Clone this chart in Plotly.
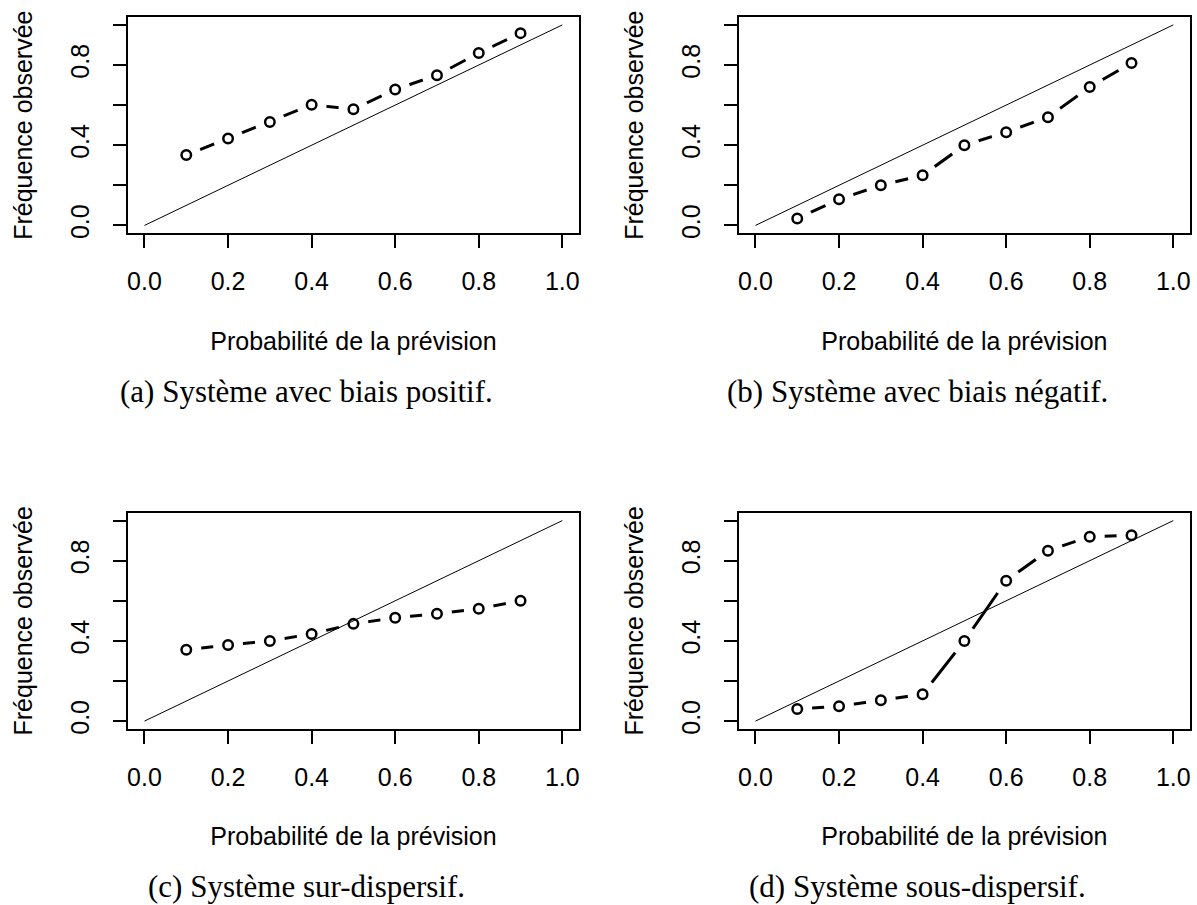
import plotly.graph_objects as go

# ---- data ----
prob = [0.1, 0.2, 0.3, 0.4, 0.5, 0.6, 0.7, 0.8, 0.9]
freq_a = [0.351, 0.434, 0.516, 0.602, 0.579, 0.678, 0.749, 0.860, 0.959]
freq_b = [0.035, 0.130, 0.200, 0.250, 0.400, 0.465, 0.540, 0.690, 0.810]
freq_c = [0.356, 0.380, 0.400, 0.435, 0.485, 0.515, 0.535, 0.560, 0.600]
freq_d = [0.060, 0.074, 0.104, 0.134, 0.400, 0.700, 0.850, 0.920, 0.927]
diag = [0.0, 1.0]
tick_vals = [0.0, 0.2, 0.4, 0.6, 0.8, 1.0]
x_tick_text = ["0.0", "0.2", "0.4", "0.6", "0.8", "1.0"]
y_tick_text = ["0.0", "", "0.4", "", "0.8", ""]
captions = ["(a) Système avec biais positif.", "(b) Système avec biais négatif.",
            "(c) Système sur-dispersif.", "(d) Système sous-dispersif."]
xtitle = "Probabilité de la prévision"
ytitle = "Fréquence observée"

series = [freq_a, freq_b, freq_c, freq_d]

W, H = 1197, 905
fig = go.Figure()

# panel geometry (pixels)
xdoms = [(127, 579), (739, 1191)]
ydoms = [(17, 235), (516, 734)]
cap_x = [306, 918]
cap_y = [394, 892]

axis_font = dict(family="Liberation Sans, Arial, sans-serif", size=25, color="black")

for i, ys in enumerate(series):
    col, row = i % 2, i // 2
    xa = "x" if i == 0 else f"x{i+1}"
    ya = "y" if i == 0 else f"y{i+1}"
    # solid connecting line (gaps made by white markers)
    fig.add_trace(go.Scatter(x=prob, y=ys, xaxis=xa, yaxis=ya, mode="lines",
                             line=dict(color="black", width=3), hoverinfo="skip"))
    fig.add_trace(go.Scatter(x=prob, y=ys, xaxis=xa, yaxis=ya, mode="markers",
                             marker=dict(symbol="circle", size=30, color="white",
                                         line=dict(width=0)), hoverinfo="skip"))
    fig.add_trace(go.Scatter(x=diag, y=diag, xaxis=xa, yaxis=ya, mode="lines",
                             line=dict(color="black", width=1), hoverinfo="skip"))
    fig.add_trace(go.Scatter(x=prob, y=ys, xaxis=xa, yaxis=ya, mode="markers",
                             marker=dict(symbol="circle-open", size=9.5, color="black",
                                         line=dict(width=2.5, color="black"))))
    x0, x1 = xdoms[col]
    y0, y1 = ydoms[row]
    xkey = "xaxis" if i == 0 else f"xaxis{i+1}"
    ykey = "yaxis" if i == 0 else f"yaxis{i+1}"
    fig.layout[xkey] = dict(
        domain=[x0 / W, x1 / W], anchor=ya, range=[-0.04, 1.04],
        showgrid=False, zeroline=False, showline=True, mirror=True,
        linecolor="black", linewidth=1.5, ticks="outside", ticklen=13,
        tickwidth=1.5, tickcolor="black", tickvals=tick_vals, ticktext=x_tick_text,
        tickfont=axis_font, ticklabelstandoff=12,
        title=dict(text=xtitle, font=axis_font, standoff=38))
    fig.layout[ykey] = dict(
        domain=[1 - y1 / H, 1 - y0 / H], anchor=xa, range=[-0.04, 1.04],
        showgrid=False, zeroline=False, showline=True, mirror=True,
        linecolor="black", linewidth=1.5, ticks="outside", ticklen=13,
        tickwidth=1.5, tickcolor="black", tickvals=tick_vals, ticktext=y_tick_text,
        tickfont=axis_font, tickangle=-90, ticklabelstandoff=14,
        title=dict(text=ytitle, font=axis_font, standoff=26))
    fig.add_annotation(text=captions[i], xref="paper", yref="paper",
                       x=cap_x[col] / W, y=1 - cap_y[row] / H,
                       xanchor="center", yanchor="middle", showarrow=False,
                       font=dict(family="Liberation Serif, Times New Roman, serif",
                                 size=31, color="black"))

fig.update_layout(width=W, height=H, margin=dict(l=0, r=0, t=0, b=0),
                  paper_bgcolor="white", plot_bgcolor="white", showlegend=False)

fig.write_html("out.html", config={"displayModeBar": False},
               post_script="document.body.style.margin='0px';document.body.style.overflow='hidden';")
